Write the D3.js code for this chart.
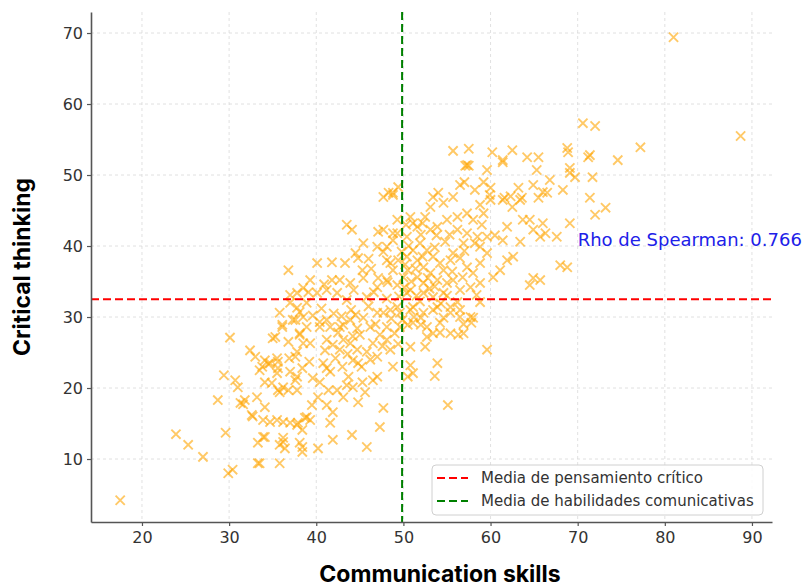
<!DOCTYPE html>
<meta charset="utf-8">
<script src="https://d3js.org/d3.v7.min.js"></script>
<style>
  body { margin: 0; background: #fff; }
</style>
<div id="my_dataviz"></div>
<script>

// communication skills (x) / critical thinking (y)
var points = [
  [17.5,4.2],[23.9,13.5],[25.3,12.0],[27.0,10.3],[28.7,18.3],[29.4,21.8],[29.6,13.7],[29.9,8.0],[30.4,8.5],[30.1,27.1],
  [30.7,21.1],[31.0,20.1],[31.3,17.9],[31.6,17.7],[32.4,25.3],[33.0,24.4],[32.7,16.0],[33.2,18.7],[34.1,23.9],[33.5,22.5],
  [34.5,23.4],[35.5,24.2],[35.6,22.8],[35.8,30.6],[36.1,28.6],[35.0,27.0],[36.8,26.5],[37.6,29.6],[38.1,30.7],[37.8,25.1],
  [38.5,26.3],[37.8,33.4],[38.5,34.1],[37.0,22.3],[37.8,21.6],[38.4,22.8],[34.1,20.8],[34.9,20.7],[35.6,19.7],[36.2,20.1],
  [34.1,17.3],[32.6,16.2],[33.9,15.5],[34.7,15.2],[35.5,15.5],[36.2,15.2],[37.0,15.1],[37.8,14.8],[38.4,14.1],[38.9,15.9],
  [36.2,12.4],[36.4,11.5],[34.1,13.1],[33.3,12.3],[38.1,12.3],[38.4,11.0],[35.8,9.4],[33.3,9.4],[37.0,32.0],
  [35.3,27.2],[36.1,28.9],[33.8,23.0],[34.7,23.5],[35.6,23.7],[35.5,22.1],[37.6,24.4],[38.1,27.5],[39.3,26.3],[38.9,28.6],
  [40.8,23.5],[41.2,22.8],[41.6,22.3],[41.2,26.8],[41.9,26.1],[43.1,26.8],[42.7,25.4],[43.9,26.3],[44.7,25.4],[44.2,23.9],
  [44.8,23.5],[45.8,25.1],[46.5,26.3],[47.0,24.4],[47.3,27.5],[48.1,26.8],[48.5,25.4],[49.0,27.7],[48.8,23.0],[41.6,28.6],
  [43.1,28.9],[44.7,28.4],[46.2,28.6],[40.4,29.3],[31.8,18.3],[35.8,19.4],[36.8,19.7],[37.6,21.1],[37.8,19.7],[39.6,21.4],
  [40.4,20.8],[41.4,19.7],[42.4,19.7],[43.1,18.7],[43.5,20.4],[44.2,20.1],[45.3,20.8],[45.6,19.4],[44.8,18.0],[46.5,21.1],
  [47.0,21.6],[47.7,17.2],[47.3,14.5],[45.8,11.7],[44.1,13.4],[41.6,15.1],[41.9,16.6],[41.2,17.6],[40.2,18.7],[39.5,17.6],
  [39.3,15.5],[38.7,15.8],[37.9,15.1],[38.4,11.7],[40.2,11.5],[41.9,12.7],[36.2,13.0],[35.8,12.0],[33.9,13.1],[33.5,9.4],
  [36.8,36.6],[40.1,37.6],[41.8,37.7],[39.3,35.2],[37.0,33.1],[41.2,33.8],[41.8,35.2],[42.7,35.2],[43.5,43.0],[44.1,42.3],
  [45.4,40.4],[44.5,39.0],[44.8,38.3],[45.3,36.6],[45.4,35.5],[43.9,34.8],[47.1,42.0],[47.0,39.9],[47.7,39.2],[48.1,38.0],
  [47.1,35.5],[48.1,35.2],[48.8,36.6],[47.7,46.9],[48.8,47.2],[49.4,48.3],[49.3,43.7],[49.3,41.8],[48.8,40.8],[47.0,34.2],
  [45.8,32.8],[43.5,32.4],[42.4,33.4],[40.1,33.4],[38.9,32.0],[37.8,31.3],[38.5,30.0],[37.3,29.6],[38.1,27.7],[41.2,29.6],
  [40.4,28.6],[42.7,28.6],[43.9,29.6],[45.4,29.9],[47.0,30.6],[48.5,31.0],[49.3,31.4],[50.4,33.4],[50.1,34.2],
  [57.3,51.4],[59.6,50.7],[61.4,51.8],[65.3,50.7],[66.8,49.3],[68.3,47.9],[69.1,50.3],[64.9,48.6],[66.0,47.6],[66.5,47.5],
  [69.1,43.2],[67.6,41.3],[65.7,41.3],[64.9,42.3],[64.5,43.7],[63.7,43.7],[63.4,40.6],[68.0,37.3],[68.8,37.0],[64.9,35.5],
  [64.5,34.5],[62.6,38.5],[61.9,38.0],[61.1,36.6],[60.3,35.6],[58.8,37.6],[59.6,39.0],[60.5,41.5],[61.4,40.8],[61.9,42.7],
  [62.5,45.5],[61.4,46.5],[63.4,46.5],[63.2,48.2],[62.3,47.0],[60.0,46.5],[60.0,48.2],[58.8,45.8],[59.2,44.6],[58.0,43.7],
  [57.3,44.6],[56.5,48.6],[55.7,46.9],[54.6,46.1],[53.4,46.9],[54.0,47.5],[53.1,45.5],[52.5,44.1],[53.9,42.7],[55.0,43.7],
  [56.2,44.1],[56.2,42.3],[57.3,41.8],[56.9,40.4],[58.5,41.3],[58.2,40.4],[58.8,39.9],[59.6,41.3],[55.7,39.0],[56.5,38.3],
  [55.4,38.0],[57.3,37.0],[58.0,36.2],[58.8,34.8],[57.7,34.2],[56.5,33.8],[55.7,35.2],[54.6,36.6],[54.2,37.6],[53.4,38.5],
  [52.7,39.4],[51.9,40.4],[51.1,39.4],[51.6,38.0],[52.3,37.0],[53.1,36.2],[53.9,35.2],[55.0,34.8],[51.6,42.7],[51.1,43.2],
  [50.8,44.1],[50.3,43.0],[52.2,43.2],[53.1,42.3],[50.4,41.3],[48.8,41.8],[47.7,42.3],[48.1,39.9],[48.5,37.6],[49.4,38.0],
  [50.4,38.5],[50.5,36.6],[50.0,35.6],[51.6,35.6],[52.3,34.8],[50.8,33.8],[52.3,33.4],[53.4,32.8],[54.6,33.4],[49.3,34.5],
  [48.2,34.9],[48.1,32.6],[47.7,30.6],[49.6,30.6],[51.1,31.4],[52.3,30.6],[53.9,31.4],[55.4,31.4],[56.5,30.0],[57.7,30.0],
  [54.2,29.2],[52.7,28.6],[51.1,29.2],[49.6,28.6],[48.1,28.6],[56.2,32.1],[48.8,47.5],
  [70.6,57.3],[72.0,56.9],[60.2,53.2],[62.5,53.5],[61.4,52.1],[64.2,52.5],[65.5,52.5],[68.8,53.8],[68.9,53.2],[71.2,52.5],
  [71.4,52.8],[69.1,51.0],[69.7,49.7],[71.7,49.7],[65.5,46.8],[63.6,46.8],[61.6,46.8],[59.9,47.2],[71.4,46.8],[73.2,45.4],
  [72.0,44.4],[74.6,52.1],[81.0,69.4],[88.7,55.5],[77.2,53.9],[66.0,43.2],[66.3,41.8],[65.7,35.2],
  [58.8,32.1],[58.0,29.9],[57.8,29.2],[59.6,25.4],[56.9,27.7],[56.3,27.5],[55.4,27.7],[54.2,27.8],[53.4,27.7],[52.7,27.2],
  [52.5,25.8],[50.8,25.8],[50.8,23.2],[51.1,22.1],[50.5,21.6],[53.9,23.5],[53.6,21.7],[55.1,17.6],[52.0,29.9],[54.6,29.9],
  [55.4,30.6],[56.5,31.0],[53.4,31.0],[50.8,31.0],[50.5,28.9],[52.0,28.9],
  [55.7,53.4],[57.5,53.7],[57.1,51.3],[57.5,51.3],[57.0,49.0],[58.2,47.9],[59.2,49.0],[48.3,47.5],
  [42.0,30.5],[44.0,31.0],[45.0,27.5],[46.8,29.0],[42.5,27.8],[39.6,30.2],[44.5,30.3],[46.0,31.5],[48.6,29.8],[43.0,23.0],
  [51.4,36.8],[52.8,35.5],[50.6,40.0],[53.6,39.8],[54.8,40.6],[52.0,41.6],[51.5,33.0],[53.0,34.0],[55.6,36.4],[56.8,35.6],
  [50.2,37.4],[49.8,39.2],
  [41.0,25.3],[42.2,24.2],[43.6,24.8],[45.2,23.0],[46.2,24.0],[47.6,25.9],[49.4,26.2],[44.2,27.3],[42.9,30.1],[40.6,31.2],
  [39.1,33.5],[40.9,34.6],[44.3,33.8],[46.6,33.5],[46.3,36.8],[49.5,32.9],[50.9,35.0],[51.9,32.2],[54.3,31.9],[55.0,33.0],
  [53.6,34.3],[51.2,30.0],[49.9,29.6],[56.9,29.0],[58.4,33.1],[57.0,39.3],[53.8,41.5],[52.2,38.5],[55.3,41.6],[59.0,43.0],
  [46.0,38.2],[43.3,37.6],[39.2,23.7],[36.9,24.2],[43.7,21.6]
];

var meanCritical = 32.5;      // "Media de pensamiento crítico"
var meanCommunication = 49.85; // "Media de habilidades comunicativas"
var rhoLabel = "Rho de Spearman: 0.766";
var xTicks = [20, 30, 40, 50, 60, 70, 80, 90];
var yTicks = [10, 20, 30, 40, 50, 60, 70];
var legendItems = [
  {label: "Media de pensamiento crítico", color: "red"},
  {label: "Media de habilidades comunicativas", color: "green"}
];

// set the dimensions and margins of the graph
var margin = {top: 12, right: 36, bottom: 65, left: 91},
    width = 808 - margin.left - margin.right,
    height = 587 - margin.top - margin.bottom;

var root = d3.select("#my_dataviz")
  .append("svg")
    .attr("width", 808)
    .attr("height", 587)
    .style("font-family", "'DejaVu Sans', sans-serif");

var svg = root.append("g")
    .attr("transform", "translate(" + margin.left + "," + margin.top + ")");

var x = d3.scaleLinear().domain([14.15, 92.3]).range([0, width]);
var y = d3.scaleLinear().domain([1.13, 72.96]).range([height, 0]);

// grid
svg.append("g").selectAll("line.gx")
  .data(xTicks).enter().append("line")
    .attr("x1", function(d) { return x(d); }).attr("x2", function(d) { return x(d); })
    .attr("y1", 0).attr("y2", height)
    .style("stroke", "#d9d9d9").style("stroke-width", 0.8).style("stroke-dasharray", "3,3");
svg.append("g").selectAll("line.gy")
  .data(yTicks).enter().append("line")
    .attr("y1", function(d) { return y(d); }).attr("y2", function(d) { return y(d); })
    .attr("x1", 0).attr("x2", width)
    .style("stroke", "#d9d9d9").style("stroke-width", 0.8).style("stroke-dasharray", "3,3");

// scatter, 'x' markers
var r = 4.6;
svg.append("g").selectAll("path.pt")
  .data(points).enter().append("path")
    .attr("d", function(d) {
      var cx = x(d[0]), cy = y(d[1]);
      return "M" + (cx - r) + "," + (cy - r) + "L" + (cx + r) + "," + (cy + r) +
             "M" + (cx - r) + "," + (cy + r) + "L" + (cx + r) + "," + (cy - r);
    })
    .style("stroke", "orange")
    .style("stroke-opacity", 0.6)
    .style("stroke-width", 1.9)
    .style("fill", "none");

// mean lines
svg.append("line")
  .attr("x1", 0).attr("x2", width)
  .attr("y1", y(meanCritical)).attr("y2", y(meanCritical))
  .style("stroke", "red").style("stroke-width", 2).style("stroke-dasharray", "8,4");
svg.append("line")
  .attr("x1", x(meanCommunication)).attr("x2", x(meanCommunication))
  .attr("y1", 0).attr("y2", height)
  .style("stroke", "green").style("stroke-width", 2).style("stroke-dasharray", "8,4");

// axes
var xAxis = svg.append("g")
  .attr("transform", "translate(0," + height + ")")
  .call(d3.axisBottom(x).tickValues(xTicks).tickSize(4).tickSizeOuter(0).tickPadding(6));
var yAxis = svg.append("g")
  .call(d3.axisLeft(y).tickValues(yTicks).tickSize(4).tickSizeOuter(0).tickPadding(4));
[xAxis, yAxis].forEach(function(a) {
  a.select(".domain").style("stroke", "#555").style("stroke-width", 1.6);
  a.selectAll(".tick line").style("stroke", "#555").style("stroke-width", 1.2);
  a.selectAll(".tick text")
    .style("font-family", "'DejaVu Sans', sans-serif")
    .style("font-size", "16px")
    .style("fill", "#333");
});

// spearman annotation
svg.append("text")
  .attr("x", x(70)).attr("y", y(40))
  .style("font-size", "18px")
  .style("fill", "#2020e8")
  .text(rhoLabel);

// legend
var lg = svg.append("g").attr("transform", "translate(" + (432 - margin.left) + "," + (465 - margin.top) + ")");
lg.append("rect")
  .attr("width", 331).attr("height", 50).attr("rx", 4)
  .style("fill", "white").style("fill-opacity", 0.85)
  .style("stroke", "#d0d0d0").style("stroke-width", 1);
legendItems.forEach(function(it, i) {
  var yy = 13 + i * 23;
  lg.append("line")
    .attr("x1", 5).attr("x2", 36).attr("y1", yy).attr("y2", yy)
    .style("stroke", it.color).style("stroke-width", 2).style("stroke-dasharray", "8,4");
  lg.append("text")
    .attr("x", 49).attr("y", yy).attr("dy", "0.35em")
    .style("font-size", "15px").style("fill", "#333")
    .text(it.label);
});

// axis titles
root.append("text")
  .attr("x", 440).attr("y", 582)
  .attr("text-anchor", "middle")
  .style("font-family", "Inter, sans-serif")
  .style("font-weight", "bold")
  .style("font-size", "23px")
  .style("fill", "#000")
  .text("Communication skills");
root.append("text")
  .attr("transform", "translate(30,267) rotate(-90)")
  .attr("text-anchor", "middle")
  .style("font-family", "Inter, sans-serif")
  .style("font-weight", "bold")
  .style("font-size", "23px")
  .style("fill", "#000")
  .text("Critical thinking");

</script>
